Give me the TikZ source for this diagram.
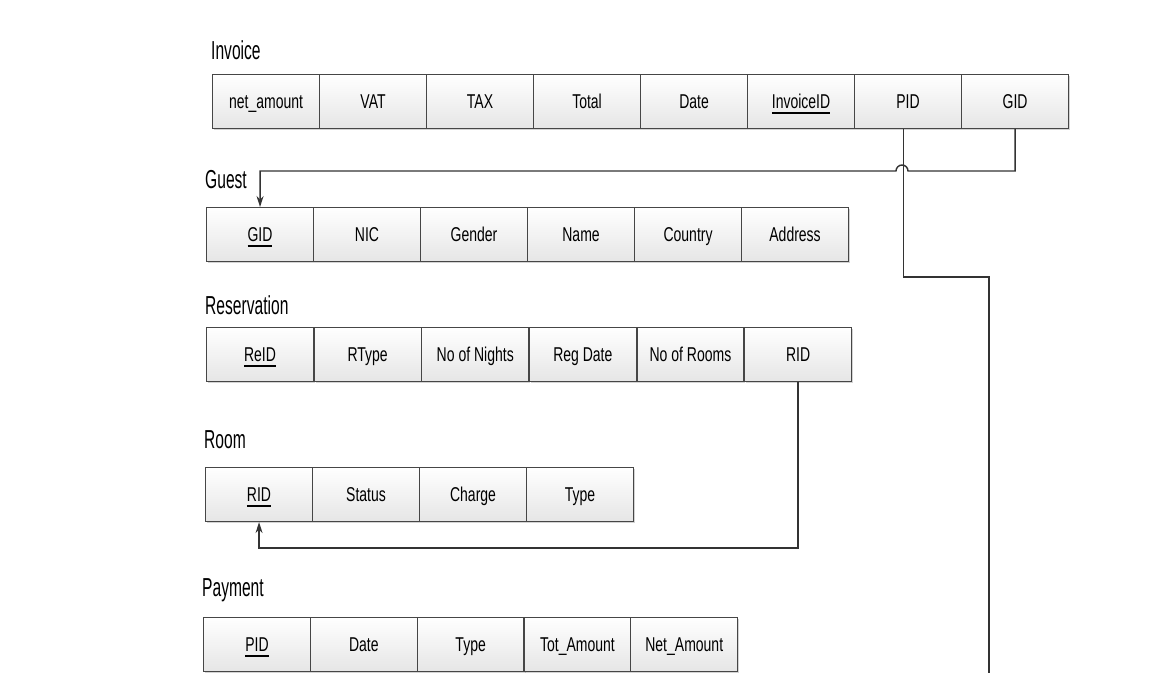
\documentclass[tikz,border=0pt]{standalone}
\usepackage{fontspec}
\setmainfont{Liberation Sans}[FakeStretch=0.7]
\newfontfamily\labelfont{Liberation Sans}[FakeStretch=0.6]
\usetikzlibrary{calc}
\usetikzlibrary{arrows.meta}
\usetikzlibrary{shadows}

\newcommand\pkey[1]{\setbox0\hbox{#1}\rlap{\rule[-5pt]{\wd0}{1.8pt}}\box0}

\begin{document}
\begin{tikzpicture}[x=1pt,y=-1pt,
        cell/.style={draw=gray!55!black,line width=1.1pt,top color=white,bottom color=gray!20,
            minimum width=107pt,minimum height=54pt,inner sep=0pt,anchor=north west,
            text height=14.3pt,text depth=0pt,
            font=\fontsize{20}{24}\selectfont,
            drop shadow={shadow xshift=1.5pt,shadow yshift=-1.5pt,opacity=0.35}},
        tablename/.style={anchor=west,inner sep=0pt,font=\labelfont\fontsize{26}{30}\selectfont},
        fkline/.style={draw=gray!40!black,line width=1.4pt},
        fk/.style={fkline,-{Stealth[length=11pt,width=7pt]}}]%
        \useasboundingbox (0,0) rectangle (1149,673);%
        % tables
        \node[tablename] (invoiceT) at (211,50) {Invoice};%
        \foreach \txt [count=\i] in {net\_amount,VAT,TAX,Total,Date,\pkey{InvoiceID},PID,GID}
            \node[cell] (inv\i) at ({212+(\i-1)*107},74) {\txt};%
        \node[tablename] (guestT) at (205,180) {Guest};%
        \foreach \txt [count=\i] in {\pkey{GID},NIC,Gender,Name,Country,Address}
            \node[cell] (gst\i) at ({206+(\i-1)*107},207) {\txt};%
        \node[tablename] (reservationT) at (205,305) {Reservation};%
        \foreach \txt [count=\i] in {\pkey{ReID},RType,No of Nights,Reg Date,No of Rooms,RID}
            \node[cell] (res\i) at ({206+(\i-1)*107.6},327) {\txt};%
        \node[tablename] (roomT) at (204,440) {Room};%
        \foreach \txt [count=\i] in {\pkey{RID},Status,Charge,Type}
            \node[cell] (room\i) at ({205+(\i-1)*107},467) {\txt};%
        \node[tablename] (paymentT) at (202,590) {Payment};%
        \foreach \txt [count=\i] in {\pkey{PID},Date,Type,Tot\_Amount,Net\_Amount}
            \node[cell] (pay\i) at ({203+(\i-1)*106.8},617) {\txt};%
        % links
        \coordinate (hopR) at (908,171);%
        \coordinate (pidEnd) at (989,673);%
        \draw[fkline] ([xshift=-4.5pt]inv7.south) -- ++(0,148) -| (pidEnd);%
        \draw[fk] (inv8.south) |- (hopR) arc[start angle=0,end angle=180,radius=6pt] -| (gst1.north);%
        \draw[fk] (res6.south) -- ++(0,166) -| (room1.south);%
    \end{tikzpicture}
\end{document}
